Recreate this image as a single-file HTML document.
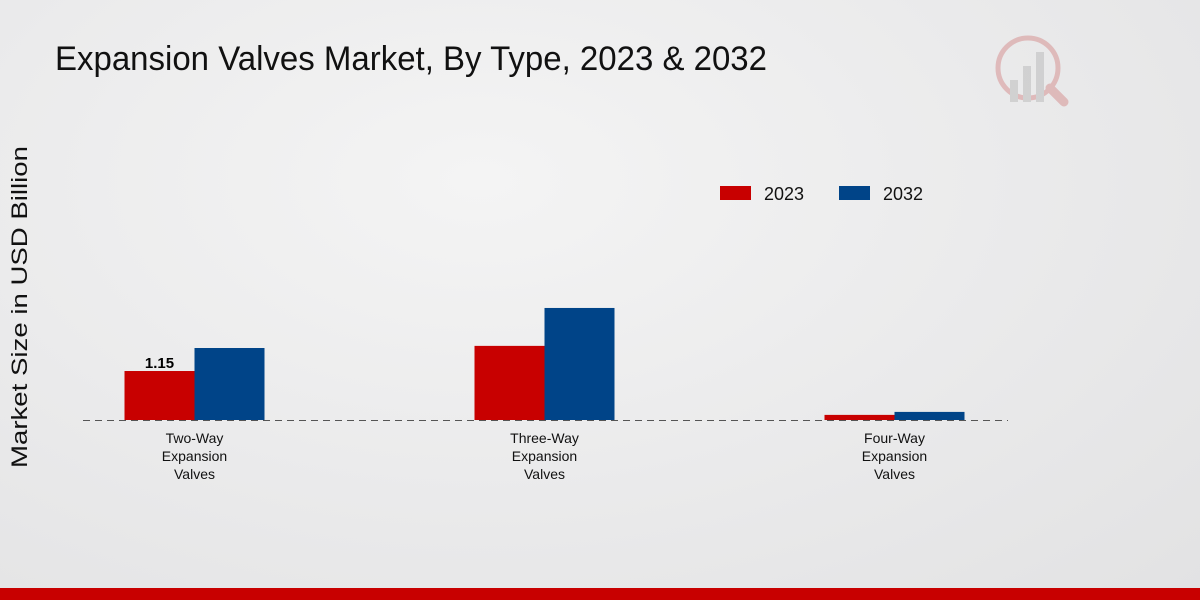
<!DOCTYPE html>
<html><head><meta charset="utf-8"><style>
html,body{margin:0;padding:0;width:1200px;height:600px;overflow:hidden;}
body{background:radial-gradient(ellipse at 40% 30%,#f4f4f4 0%,#e9e9ea 60%,#e2e2e3 100%);font-family:"Liberation Sans",sans-serif;}
</style></head><body>
<svg id="chart" width="1200" height="600" style="position:absolute;left:0;top:0">
<text x="55" y="70" font-size="34" fill="#111" textLength="712" lengthAdjust="spacingAndGlyphs">Expansion Valves Market, By Type, 2023 &amp; 2032</text>
<text transform="translate(27,307) rotate(-90)" text-anchor="middle" font-size="22" fill="#111" textLength="322" lengthAdjust="spacingAndGlyphs">Market Size in USD Billion</text>
<g>
<rect x="720" y="186" width="31" height="14" fill="#c80000"/>
<text x="764" y="200" font-size="18" fill="#111">2023</text>
<rect x="839" y="186" width="31" height="14" fill="#004488"/>
<text x="883" y="200" font-size="18" fill="#111">2032</text>
</g>
<g id="bars"></g>
<line x1="83" y1="420.5" x2="1008" y2="420.5" stroke="#555" stroke-dasharray="7,5"/>
<g id="xlabels"></g>
<g opacity="0.25">
<circle cx="1028" cy="68" r="30" fill="none" stroke="#c03030" stroke-width="5"/>
<rect x="1010" y="80" width="8" height="22" fill="#888"/>
<rect x="1023" y="66" width="8" height="36" fill="#888"/>
<rect x="1036" y="52" width="8" height="50" fill="#888"/>
<line x1="1050" y1="88" x2="1064" y2="102" stroke="#c03030" stroke-width="9" stroke-linecap="round"/>
</g>
<rect x="0" y="588" width="1200" height="12" fill="#c80000"/>
</svg>
<script>
const categories=[["Two-Way","Expansion","Valves"],["Three-Way","Expansion","Valves"],["Four-Way","Expansion","Valves"]];
const values2023=[1.15,1.74,0.12];
const values2032=[1.69,2.63,0.19];
const printed2023=["1.15",null,null];
const ns="http://www.w3.org/2000/svg";
const baseY=420, pxPerUnit=42.6, x0=194.5, step=350, bw=70;
function xC(i){return x0+i*step;}
function yV(v){return baseY-v*pxPerUnit;}
const bars=document.getElementById('bars'), xl=document.getElementById('xlabels');
categories.forEach((c,i)=>{
  [[values2023,"#c80000",-bw,"2023"],[values2032,"#004488",0,"2032"]].forEach(([arr,col,off,yr])=>{
    const r=document.createElementNS(ns,'rect');
    r.setAttribute('x',xC(i)+off);r.setAttribute('y',yV(arr[i]));
    r.setAttribute('width',bw);r.setAttribute('height',baseY-yV(arr[i]));
    r.setAttribute('fill',col);
    
    
    bars.appendChild(r);
  });
  if(printed2023[i]){
    const t=document.createElementNS(ns,'text');
    t.setAttribute('x',xC(i)-bw/2);t.setAttribute('y',yV(values2023[i])-3);
    t.setAttribute('text-anchor','middle');t.setAttribute('font-size','15');t.setAttribute('font-weight','bold');
    t.textContent=printed2023[i];
    
    
    bars.appendChild(t);
  }
  c.forEach((line,j)=>{
    const t=document.createElementNS(ns,'text');
    t.setAttribute('x',xC(i));t.setAttribute('y',443+j*18);
    t.setAttribute('text-anchor','middle');t.setAttribute('font-size','14');t.setAttribute('fill','#111');
    t.textContent=line;
    
    
    xl.appendChild(t);
  });
});
</script>
</body></html>
